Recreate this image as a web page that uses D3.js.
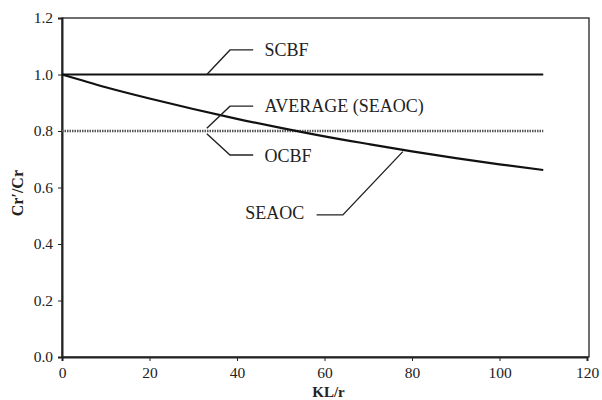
<!DOCTYPE html>
<html>
<head>
<meta charset="utf-8">
<script src="https://cdn.jsdelivr.net/npm/d3@7/dist/d3.min.js"></script>
<style>
  body { margin: 0; background: #fff; }
  svg text { font-family: "Liberation Serif", "Times New Roman", serif; fill: #222; }
</style>
</head>
<body>
<div id="chart"></div>
<script>
// values
var klr = [0, 10, 20, 30, 40, 50, 60, 70, 80, 90, 100, 110];
var seaoc = [1.0, 0.955, 0.915, 0.878, 0.843, 0.811, 0.781, 0.754, 0.728, 0.704, 0.682, 0.662];
var scbf = [1.0, 1.0];
var ocbf = [0.8, 0.8];
var flatX = [0, 110];
var xTicks = [0, 20, 40, 60, 80, 100, 120];
var yTicks = [0, 0.2, 0.4, 0.6, 0.8, 1.0, 1.2];

// callout labels, in data units: text position and leader path
var labels = [
  {text: "SCBF", x: 46.3, y: 1.088, anchor: "start", leader: [[33.1, 1.0], [38.4, 1.087], [43.7, 1.087]]},
  {text: "AVERAGE (SEAOC)", x: 46.3, y: 0.89, anchor: "start", leader: [[33.1, 0.81], [38.4, 0.888], [43.7, 0.888]]},
  {text: "OCBF", x: 46.3, y: 0.713, anchor: "start", leader: [[33.1, 0.79], [38.4, 0.715], [43.7, 0.715]]},
  {text: "SEAOC", x: 55.4, y: 0.51, anchor: "end", leader: [[77.9, 0.727], [64.2, 0.503], [58.2, 0.503]]}
];

var width = 602, height = 400;
var margin = {top: 18, right: 13, bottom: 43, left: 62};
var w = width - margin.left - margin.right,
    h = height - margin.top - margin.bottom;

var svg = d3.select("#chart").append("svg")
    .attr("width", width)
    .attr("height", height);

var g = svg.append("g").attr("transform", "translate(" + margin.left + "," + margin.top + ")");

var x = d3.scaleLinear().domain([0, 120]).range([0, 525]);
var y = d3.scaleLinear().domain([0, 1.2]).range([h, 0]);

// frame
g.append("rect")
    .attr("x", 0).attr("y", 0)
    .attr("width", w).attr("height", h)
    .attr("fill", "none")
    .attr("stroke", "#222")
    .attr("stroke-width", 1.3);

var xAxis = g.append("g")
    .attr("transform", "translate(0," + h + ")")
    .call(d3.axisBottom(x).tickValues(xTicks).tickSize(4).tickPadding(6).tickFormat(d3.format("d")));

var yAxis = g.append("g")
    .call(d3.axisLeft(y).tickValues(yTicks).tickSize(4).tickPadding(5).tickFormat(d3.format(".1f")));

[xAxis, yAxis].forEach(a => {
    a.select(".domain").attr("stroke", "#222").attr("stroke-width", 2);
    a.selectAll(".tick line").attr("stroke", "#222");
    a.selectAll(".tick text")
        .style("font-family", "'Liberation Serif', serif")
        .style("font-size", "15.5px")
        .attr("fill", "#333");
});

// axis titles
svg.append("text")
    .attr("x", margin.left + x(60) + 4)
    .attr("y", 397)
    .attr("text-anchor", "middle")
    .style("font-size", "15px")
    .style("font-weight", "bold")
    .text("KL/r");

svg.append("text")
    .attr("transform", "translate(23," + (margin.top + y(0.58)) + ") rotate(-90)")
    .attr("text-anchor", "middle")
    .style("font-size", "16px")
    .style("font-weight", "bold")
    .text("Cr\u2032/Cr");

var line = d3.line().x(d => x(d[0])).y(d => y(d[1]));

// OCBF / average dotted line
g.append("path")
    .datum(flatX.map((d, i) => [d, ocbf[i]]))
    .attr("d", line)
    .attr("fill", "none")
    .attr("stroke", "#555")
    .attr("stroke-width", 2.5)
    .attr("stroke-dasharray", "1.5,1");

// SCBF
g.append("path")
    .datum(flatX.map((d, i) => [d, scbf[i]]))
    .attr("d", line)
    .attr("fill", "none")
    .attr("stroke", "#111")
    .attr("stroke-width", 2.2);

// SEAOC curve
g.append("path")
    .datum(klr.map((d, i) => [d, seaoc[i]]))
    .attr("d", line.curve(d3.curveMonotoneX))
    .attr("fill", "none")
    .attr("stroke", "#111")
    .attr("stroke-width", 2.2);

var leader = d3.line().x(d => x(d[0])).y(d => y(d[1]));

labels.forEach(l => {
    g.append("path")
        .attr("d", leader(l.leader))
        .attr("fill", "none")
        .attr("stroke", "#222")
        .attr("stroke-width", 1.4);
    g.append("text")
        .attr("x", x(l.x))
        .attr("y", y(l.y))
        .attr("dy", "0.35em")
        .attr("text-anchor", l.anchor)
        .style("font-size", "18px")
        .text(l.text);
});
</script>
</body>
</html>
